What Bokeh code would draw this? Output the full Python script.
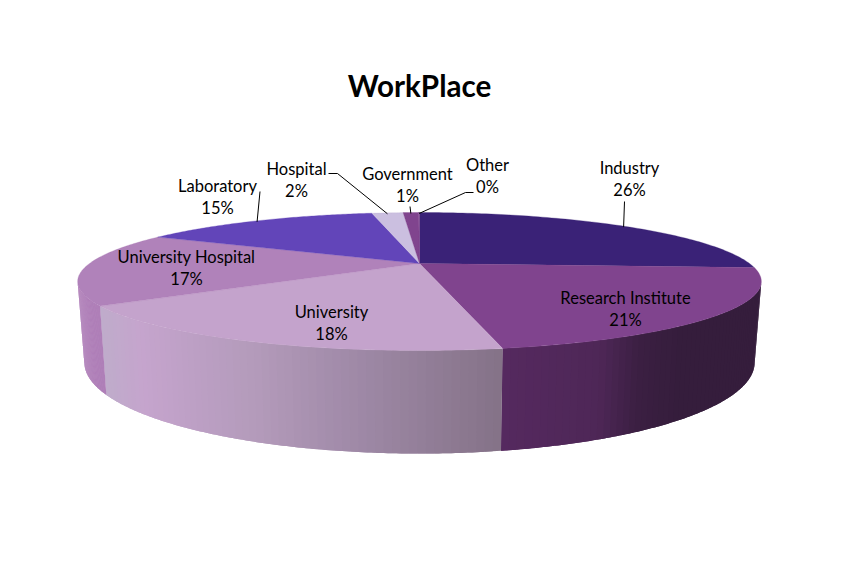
import numpy as np
from bokeh.plotting import figure
from bokeh.core.properties import value
from bokeh.embed import file_html
from bokeh.resources import INLINE

categories = ["Industry", "Research Institute", "University", "University Hospital",
              "Laboratory", "Hospital", "Government", "Other"]
shares = [26, 21, 18.45, 17.15, 14.5, 1.9, 0.95, 0.05]
percent_labels = ["26%", "21%", "18%", "17%", "15%", "2%", "1%", "0%"]
top_colors = ["#3a2277", "#80448e", "#c4a3cc", "#b082ba", "#6245b9", "#cbbfe0", "#80448e", "#80448e"]
title_text = "WorkPlace"

# layout (screen pixels of the photographed page)
label_x = [629, 625, 331, 186, 217, 296, 407, 487]
label_y = [167.5, 297.5, 311.5, 256.5, 185.5, 168.5, 173.5, 164.5]
LINE = 22
CX = 419
K = 0.261
TOP = dict(a=330.0, b=64.3, cy=263.0)
BOT = dict(a=323.5, b=84.8, cy=338.3)
VIS = (105.1, 254.9)

wall_stops = {
    1: [(503, "#55295f"), (600, "#4e2757"), (640, "#3b1f42"), (680, "#351d3c"), (765, "#351d3c")],
    2: [(100, "#bfaccb"), (140, "#c5a4cd"), (250, "#b49bbb"), (350, "#a08aa8"), (503, "#847287")],
    3: [(70, "#af7fb8"), (110, "#af7fb8")],
}


def project(theta, a, b, cy):
    t = np.radians(theta)
    w = 1 + K * np.cos(t)
    return CX + a * np.sin(t) / w, cy - b * np.cos(t) / w


def mix(stops, x):
    xs = [s[0] for s in stops]
    chans = []
    for i in (1, 3, 5):
        chans.append(np.interp(x, xs, [int(s[1][i:i + 2], 16) for s in stops]))
    return "#%02x%02x%02x" % tuple(int(round(c)) for c in chans)


edges = np.concatenate([[0], np.cumsum(shares)]) * 3.6

p = figure(width=847, height=553, x_range=(0, 847), y_range=(553, 0),
           output_backend="svg", toolbar_location=None, min_border=0,
           outline_line_color=None, background_fill_color="white")
p.axis.visible = False
p.grid.visible = False

# outer wall, drawn as narrow overlapping facets so the shading varies along it
wx, wy, wc = [], [], []
for idx, stops in wall_stops.items():
    lo, hi = max(edges[idx], VIS[0]), min(edges[idx + 1], VIS[1])
    th = np.linspace(lo, hi, 61)
    for j in range(len(th) - 1):
        t0, t1 = th[j], th[min(j + 2, len(th) - 1)]
        arc = np.linspace(t0, t1, 5)
        xt, yt = project(arc, **TOP)
        xb, yb = project(arc[::-1], **BOT)
        wx.append(list(xt) + list(xb))
        wy.append(list(yt) + list(yb))
        xm, _ = project((th[j] + th[j + 1]) / 2, **TOP)
        wc.append(mix(stops, xm))
p.patches(wx, wy, fill_color=wc, line_color=None)

# top face
fx, fy = [], []
for lo, hi in zip(edges[:-1], edges[1:]):
    th = np.linspace(lo, hi, 90)
    x, y = project(th, **TOP)
    fx.append([CX] + list(x))
    fy.append([TOP["cy"]] + list(y))
p.patches(fx, fy, fill_color=top_colors, line_color=top_colors, line_width=0.3)

# leader lines, ending on the rim at the middle of their wedge
mid = (edges[:-1] + edges[1:]) / 2
rx, ry = project(mid, **TOP)
leaders = {
    0: ([624], [201]),
    4: ([259.5], [191]),
    5: ([328, 337], [173, 173]),
    6: ([409.5], [206]),
    7: ([473, 465], [192, 192]),
}
for i, (lx, ly) in leaders.items():
    p.line(lx + [rx[i]], ly + [ry[i] + 1], line_color="#000000", line_width=1)

# labels
font = value("Lato")
p.text(label_x, label_y, text=categories, text_font=font, text_font_size="16.5px",
       text_align="center", text_baseline="middle", text_color="#000000")
p.text(label_x, [y + LINE for y in label_y], text=percent_labels, text_font=font,
       text_font_size="16.5px", text_align="center", text_baseline="middle", text_color="#000000")
p.text([419], [85], text=[title_text], text_font=font, text_font_size="29.6px",
       text_font_style="bold", text_align="center", text_baseline="middle", text_color="#000000")

open("out.html", "w").write(file_html(p, INLINE))
